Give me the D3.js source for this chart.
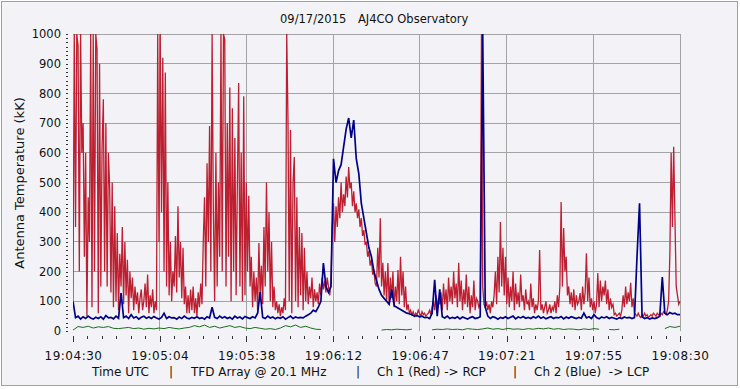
<!DOCTYPE html>
<html>
<head>
<meta charset="UTF-8">
<title>AJ4CO Observatory - 09/17/2015</title>
<script src="https://d3js.org/d3.v7.min.js"></script>
<style>
    body { margin: 0; background: #fff; }
    svg { display: block; font-family: "DejaVu Sans", sans-serif; }
    .grid line { stroke: #a4a4a4; stroke-width: 1; shape-rendering: crispEdges; }
    .axis path { display: none; }
    .axis line { stroke: #333; shape-rendering: crispEdges; }
    .axis text { fill: #111; }
    .label { fill: #111; white-space: pre; }
</style>
</head>
<body>
<div id="chart"></div>
<script>
    // etichette asse x (UTC) e tick asse y
    var xLabels = ["19:04:30", "19:05:04", "19:05:38", "19:06:12", "19:06:47", "19:07:21", "19:07:55", "19:08:30"];
    var yTicks = [0, 100, 200, 300, 400, 500, 600, 700, 800, 900, 1000];

    // Ch 1 (Red) -> RCP, un campione ogni 0.5 s
    var redValues = [
        100,1000,350,1000,960,200,1000,600,700,250,600,50,450,300,1000,80,1000,200,1000,950,
        60,900,150,620,780,200,700,150,600,480,130,500,80,420,100,330,70,260,150,350,
        90,300,120,240,60,200,110,180,70,150,90,130,60,110,140,70,100,160,80,190,
        60,120,80,140,60,100,70,1000,300,1000,400,920,200,870,150,500,120,300,100,200,
        150,320,130,420,180,300,110,280,90,150,60,120,60,140,70,150,60,110,50,130,
        80,160,90,300,450,150,565,300,690,200,1000,400,100,600,150,500,250,1000,200,1000,
        980,150,700,250,820,100,750,200,650,120,500,835,150,600,100,790,120,500,200,455,
        150,250,80,200,100,180,70,296,120,220,90,350,150,500,200,400,100,300,80,150,
        70,100,60,90,50,80,60,110,70,1000,710,100,677,60,500,586,100,450,80,350,
        120,330,70,280,100,200,90,150,110,180,80,140,100,130,90,160,120,180,140,170,
        130,180,150,120,160,350,430,300,420,350,450,380,500,400,460,420,520,450,552,480,
        500,420,470,400,430,380,410,350,380,320,340,290,300,250,270,220,240,190,200,160,
        150,280,180,380,150,230,120,200,100,229,90,180,110,200,80,150,100,205,90,250,
        120,200,80,150,70,90,60,70,55,65,50,60,55,70,60,50,65,55,60,50,
        55,60,70,55,80,100,70,120,80,110,90,130,70,160,90,140,70,180,100,150,
        90,200,110,160,80,230,100,170,70,140,90,190,80,150,60,120,80,170,70,110,
        100,80,90,1000,150,90,80,100,70,90,60,100,80,120,200,90,250,130,367,150,
        280,120,250,90,180,80,150,100,200,70,160,90,130,80,190,100,120,70,140,90,
        100,70,160,80,110,60,90,70,100,273,70,90,60,80,100,60,70,90,60,80,
        70,100,60,120,80,150,434,150,347,200,250,120,150,90,130,80,140,70,120,90,
        100,128,70,150,90,130,262,100,180,80,110,70,100,60,90,195,80,170,100,150,
        120,170,90,140,70,110,80,90,55,60,50,55,60,50,70,120,80,150,90,130,
        100,162,80,110,60,55,50,60,50,45,55,50,60,50,55,45,50,55,50,60,
        55,50,60,55,50,60,55,65,60,55,70,100,262,600,350,620,380,150,120,90,
        100
    ];

    // Ch 2 (Blue) -> LCP, un campione al secondo
    var blueValues = [
        100,45,50,40,48,42,50,44,40,46,
        42,48,40,52,44,46,41,50,43,128,
        45,50,42,55,44,48,40,46,50,43,
        47,42,49,44,40,46,60,42,48,44,
        45,40,47,42,50,44,41,46,43,48,
        42,45,40,48,44,80,46,42,50,44,
        48,42,46,40,50,44,47,41,49,45,
        42,48,44,60,131,46,42,50,44,47,
        41,46,43,48,40,45,50,42,47,44,
        46,44,50,55,60,70,65,80,100,229,
        150,130,150,580,500,540,560,620,680,717,
        650,710,580,530,430,380,330,280,250,200,
        170,140,120,110,100,90,140,85,80,75,
        70,65,60,58,55,50,52,48,50,45,
        46,42,60,172,50,140,48,44,50,42,
        46,43,48,41,47,44,40,45,48,42,
        44,48,1000,80,50,42,48,45,40,46,
        43,48,42,46,50,41,47,44,49,43,
        46,42,48,44,50,43,47,41,45,48,
        42,46,44,49,41,47,43,48,45,42,
        46,43,60,44,48,42,55,45,41,47,
        44,48,42,46,43,40,45,42,47,44,
        46,42,45,250,430,48,42,45,40,44,
        42,45,50,182,60,55,62,58,60,55,
        55
    ];

    // terzo canale (verde), un campione ogni 2 s, null = nessun dato
    var greenValues = [
        3,15,12,16,10,14,12,15,9,8,10,
        12,8,10,6,9,7,10,8,12,9,
        7,10,12,18,14,20,12,16,10,14,
        18,12,15,10,8,12,9,6,8,5,
        10,18,14,20,12,16,10,6,5,null,
        null,null,null,null,null,null,null,null,null,null,
        3,5,4,6,5,4,6,null,null,null,
        4,6,5,7,5,6,4,8,6,5,
        7,10,6,8,5,9,6,7,5,8,
        6,9,7,10,6,8,5,7,6,4,
        7,5,8,6,null,5,4,6,null,null,
        5,null,null,null,null,null,8,15,12,16
    ];

    var width = 740;
    var height = 389;
    var plot = { left: 73, right: 680, top: 34, bottom: 331 };
    var duration = 240; // secondi da 19:04:30 a 19:08:30

    var svg = d3.select("#chart")
        .append("svg")
        .attr("width", width)
        .attr("height", height);

    // sfondo e cornice
    svg.append("rect")
        .attr("x", 1.5).attr("y", 1.5)
        .attr("width", 736).attr("height", 384)
        .attr("fill", "#f3f3f7")
        .attr("stroke", "#a0a0a0");

    var x = d3.scaleLinear().domain([0, duration]).range([plot.left, plot.right]);
    var y = d3.scaleLinear().domain([0, 1000]).range([plot.bottom, plot.top]);

    var majorT = d3.range(xLabels.length).map(function (i) { return i * duration / (xLabels.length - 1); });
    var minorT = d3.range(43).map(function (i) { return i * duration / 42; });
    var yMinor = d3.range(0, 1000.001, 100 / 7);

    // griglia
    var grid = svg.append("g").attr("class", "grid");
    grid.selectAll(".h")
        .data(yTicks.slice(1))
        .enter().append("line")
        .attr("x1", plot.left).attr("x2", plot.right)
        .attr("y1", function (d) { return y(d); })
        .attr("y2", function (d) { return y(d); });
    grid.selectAll(".v")
        .data(majorT.slice(1))
        .enter().append("line")
        .attr("y1", plot.top).attr("y2", plot.bottom)
        .attr("x1", function (d) { return x(d); })
        .attr("x2", function (d) { return x(d); });

    // assi
    svg.append("g")
        .attr("class", "axis")
        .attr("transform", "translate(0,336)")
        .call(d3.axisBottom(x).tickValues(minorT).tickSize(3).tickFormat(""));

    svg.append("g")
        .attr("class", "axis")
        .attr("transform", "translate(0,336)")
        .call(d3.axisBottom(x).tickValues(majorT).tickSize(6).tickPadding(9)
            .tickFormat(function (d, i) { return xLabels[i]; }))
        .attr("font-family", null)
        .attr("font-size", null)
        .selectAll("text")
        .style("font-size", "12px")
        .style("letter-spacing", "0.5px");

    svg.append("g")
        .attr("class", "axis")
        .attr("transform", "translate(68,0)")
        .call(d3.axisLeft(y).tickValues(yMinor).tickSize(2).tickFormat(""));

    svg.append("g")
        .attr("class", "axis")
        .attr("transform", "translate(68,0)")
        .call(d3.axisLeft(y).tickValues(yTicks).tickSize(2).tickPadding(5).tickFormat(d3.format("d")))
        .attr("font-family", null)
        .attr("font-size", null)
        .selectAll("text")
        .style("font-size", "11.5px");

    // serie
    svg.append("clipPath").attr("id", "clip")
        .append("rect")
        .attr("x", plot.left).attr("y", plot.top - 1)
        .attr("width", plot.right - plot.left + 1)
        .attr("height", plot.bottom - plot.top + 1);

    function lineFor(values) {
        var step = duration / (values.length - 1);
        return d3.line()
            .defined(function (d) { return d !== null; })
            .x(function (d, i) { return x(i * step); })
            .y(function (d) { return y(d); });
    }

    var series = svg.append("g").attr("clip-path", "url(#clip)");

    series.append("path")
        .datum(greenValues)
        .attr("d", lineFor(greenValues))
        .attr("fill", "none")
        .attr("stroke", "#1d6b1d")
        .attr("stroke-width", 1);

    series.append("path")
        .datum(redValues)
        .attr("d", lineFor(redValues))
        .attr("fill", "none")
        .attr("stroke", "#bd1f30")
        .attr("stroke-width", 1.3);

    series.append("path")
        .datum(blueValues)
        .attr("d", lineFor(blueValues))
        .attr("fill", "none")
        .attr("stroke", "#00008b")
        .attr("stroke-width", 1.7);

    // titolo
    svg.append("text").attr("class", "label")
        .attr("x", 280).attr("y", 23)
        .style("font-size", "11.5px")
        .text("09/17/2015");
    svg.append("text").attr("class", "label")
        .attr("x", 358).attr("y", 23)
        .style("font-size", "11.5px")
        .text("AJ4CO Observatory");

    // titolo asse y
    svg.append("text").attr("class", "label")
        .attr("transform", "translate(24,183) rotate(-90)")
        .attr("text-anchor", "middle")
        .style("font-size", "13px")
        .text("Antenna Temperature (kK)");

    // legenda in basso
    var legend = [
        ["Time UTC", 92], ["|", 169], ["TFD Array @ 20.1 MHz", 191], ["|", 356],
        ["Ch 1 (Red) -> RCP", 377], ["|", 513], ["Ch 2 (Blue)  -> LCP", 534]
    ];
    svg.selectAll(".legend")
        .data(legend)
        .enter().append("text")
        .attr("class", "label")
        .attr("x", function (d) { return d[1]; })
        .attr("y", 376)
        .style("font-size", "12px")
        .text(function (d) { return d[0]; });
</script>
</body>
</html>
